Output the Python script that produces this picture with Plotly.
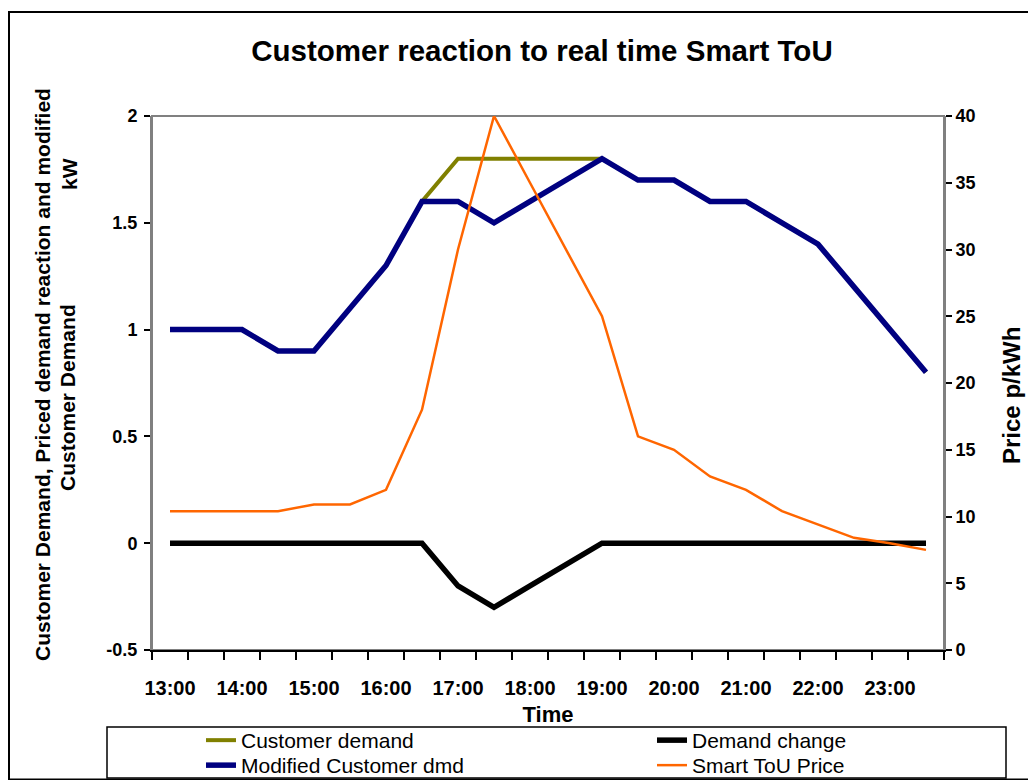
import plotly.graph_objects as go

# ---------------- data ----------------
times = ["13:00", "13:30", "14:00", "14:30", "15:00", "15:30", "16:00", "16:30",
         "17:00", "17:30", "18:00", "18:30", "19:00", "19:30", "20:00", "20:30",
         "21:00", "21:30", "22:00", "22:30", "23:00", "23:30"]
customer_demand = [1.0, 1.0, 1.0, 0.9, 0.9, 1.1, 1.3, 1.6, 1.8, 1.8, 1.8,
                   1.8, 1.8, 1.7, 1.7, 1.6, 1.6, 1.5, 1.4, 1.2, 1.0, 0.8]
modified_dmd = [1.0, 1.0, 1.0, 0.9, 0.9, 1.1, 1.3, 1.6, 1.6, 1.5, 1.6,
                1.7, 1.8, 1.7, 1.7, 1.6, 1.6, 1.5, 1.4, 1.2, 1.0, 0.8]
demand_change = [0, 0, 0, 0, 0, 0, 0, 0, -0.2, -0.3, -0.2,
                 -0.1, 0, 0, 0, 0, 0, 0, 0, 0, 0, 0]
smart_price = [10.4, 10.4, 10.4, 10.4, 10.9, 10.9, 12.0, 18.0, 30.0, 40.0, 35.0,
               30.0, 25.0, 16.0, 15.0, 13.0, 12.0, 10.4, 9.4, 8.4, 8.0, 7.5]
left_ticks = [-0.5, 0, 0.5, 1, 1.5, 2]
left_ticktext = ["-0.5", "0", "0.5", "1", "1.5", "2"]
right_ticks = [0, 5, 10, 15, 20, 25, 30, 35, 40]

x_idx = list(range(len(times)))
label_idx = x_idx[::2]
label_text = times[::2]
boundaries = [i - 0.5 for i in range(len(times) + 1)]

FONT = "Liberation Sans, Arial, sans-serif"

# plot area in pixels (for helper conversions)
PL, PR, PT, PB = 152, 944, 116, 650
def px_x(p):
    return (p - PL) / (PR - PL)
def px_y(p):
    return (PB - p) / (PB - PT)

fig = go.Figure()
fig.add_trace(go.Scatter(x=x_idx, y=customer_demand, mode="lines", name="Customer demand",
                         line=dict(color="#808000", width=4), legend="legend"))
fig.add_trace(go.Scatter(x=x_idx, y=modified_dmd, mode="lines", name="Modified Customer dmd",
                         line=dict(color="#000080", width=5.5), legend="legend3"))
fig.add_trace(go.Scatter(x=x_idx, y=demand_change, mode="lines", name="Demand change",
                         line=dict(color="#000000", width=5.5), legend="legend2"))
fig.add_trace(go.Scatter(x=x_idx, y=smart_price, mode="lines", name="Smart ToU Price",
                         line=dict(color="#FF6600", width=2.5), yaxis="y2",
                         legend="legend4"))

shapes = [
    dict(type="rect", xref="paper", yref="paper", x0=0, x1=1, y0=0, y1=1,
         line=dict(color="#808080", width=2), layer="below"),
    dict(type="rect", xref="paper", yref="paper", x0=px_x(107), x1=px_x(1006),
         y0=px_y(778), y1=px_y(727), line=dict(color="black", width=1.5)),
    dict(type="rect", xref="paper", yref="paper", x0=px_x(9), x1=px_x(1060),
         y0=px_y(779.5), y1=px_y(12), line=dict(color="black", width=2)),
]

def vtitle(text, cx, cy, size):
    return dict(text=text, xref="paper", yref="paper", x=px_x(cx), y=px_y(cy),
                xanchor="center", yanchor="middle", textangle=-90, showarrow=False,
                font=dict(family=FONT, size=size, weight="bold", color="black"))

annotations = [
    vtitle("Customer Demand, Priced demand reaction and modified", 42, 375, 21),
    vtitle("Customer Demand", 67, 398, 21),
    vtitle("kW", 69, 174, 21),
    vtitle("Price p/kWh", 1011, 396, 24),
]

def leg(cx, top):
    return dict(x=px_x(cx), y=px_y(top), xanchor="left", yanchor="top",
                orientation="v", bgcolor="rgba(0,0,0,0)", borderwidth=0,
                font=dict(family=FONT, size=21, color="black"))

fig.update_layout(
    width=1028, height=780,
    margin=dict(l=PL, r=1028 - PR, t=PT, b=780 - PB, autoexpand=False),
    paper_bgcolor="white", plot_bgcolor="white",
    font=dict(family=FONT, color="black"),
    title=dict(text="Customer reaction to real time Smart ToU", x=px_x(542), xref="paper",
               xanchor="center", y=1 - 51 / 780, yref="container", yanchor="middle",
               font=dict(family=FONT, size=29.5, weight="bold", color="black")),
    xaxis=dict(range=[-0.5, len(times) - 0.5], tickmode="array", tickvals=label_idx,
               ticktext=label_text, ticks="", showgrid=False, zeroline=False,
               showline=True, linecolor="black", linewidth=2,
               ticklabelstandoff=19,
               tickfont=dict(family=FONT, size=20, weight="bold"),
               minor=dict(tickmode="array", tickvals=boundaries, ticks="outside",
                          ticklen=8, tickcolor="black", tickwidth=1.5, showgrid=False),
               title=dict(text="Time", standoff=9,
                          font=dict(family=FONT, size=22, weight="bold"))),
    yaxis=dict(range=[-0.5, 2], tickmode="array", tickvals=left_ticks, ticktext=left_ticktext,
               ticks="outside", ticklen=6, tickcolor="black", tickwidth=1.5,
               showgrid=False, zeroline=False, showline=True, linecolor="#808080", linewidth=2,
               ticklabelstandoff=3,
               tickfont=dict(family=FONT, size=18, weight="bold")),
    yaxis2=dict(range=[0, 40], tickmode="array", tickvals=right_ticks, overlaying="y",
                side="right", anchor="x", ticks="outside", ticklen=6, tickcolor="black",
                tickwidth=1.5, showgrid=False, zeroline=False, showline=True,
                linecolor="#808080", linewidth=2,
                tickfont=dict(family=FONT, size=18, weight="bold")),
    yaxis3=dict(range=[0, 40], tickmode="array", tickvals=right_ticks, overlaying="y",
                side="right", anchor="x", ticks="inside", ticklen=6, tickcolor="black",
                tickwidth=1.5, showgrid=False, zeroline=False, showline=False,
                showticklabels=False),
    legend=leg(201, 720),
    legend2=leg(652, 720),
    legend3=leg(201, 745),
    legend4=leg(652, 745),
    shapes=shapes,
    annotations=annotations,
    showlegend=True,
)

fig.write_html("out.html", config={"displayModeBar": False},
               post_script="document.body.style.margin='0';document.body.style.overflow='hidden';")
